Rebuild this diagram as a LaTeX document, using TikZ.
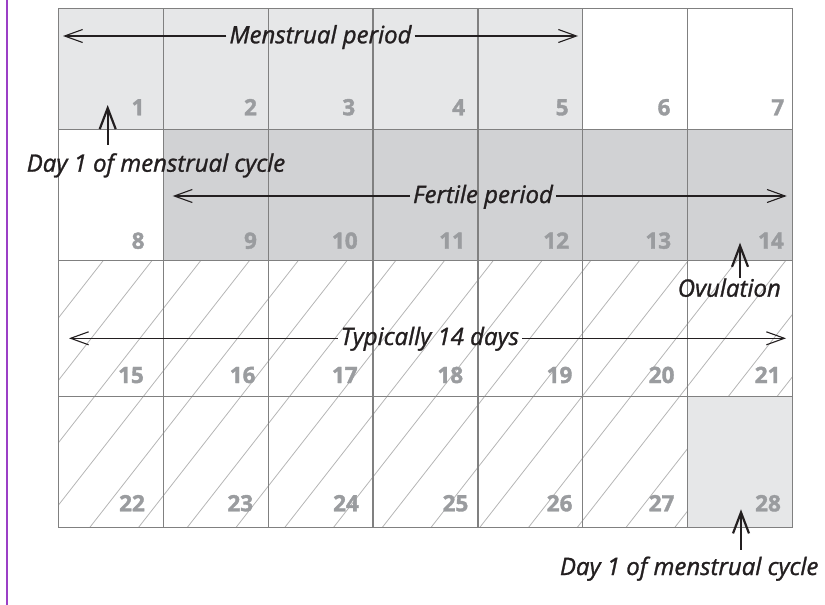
\documentclass[tikz,border=0pt]{standalone}
\usepackage{fontspec}
\setmainfont{Open Sans}
\newfontfamily\lblfont{Open Sans}[FakeBold=1.2]
\newfontfamily\numfont{Open Sans}[FakeBold=1.6]
\usetikzlibrary{arrows.meta}
\definecolor{lightfill}{HTML}{E6E7E8}
\definecolor{darkfill}{HTML}{D1D2D4}
\definecolor{gridc}{HTML}{808080}
\definecolor{numc}{HTML}{9A9C9F}
\definecolor{hatchc}{HTML}{B5B5B5}
\definecolor{txt}{HTML}{231F20}
\definecolor{purp}{HTML}{9B3FC6}
\begin{document}
\begin{tikzpicture}[x=1pt,y=-1pt,
  gridline/.style={draw=gridc,line width=1.3pt},
  hatchline/.style={draw=hatchc,line width=0.8pt},
  num/.style={anchor=base,text=numc,inner sep=0pt,font=\numfont\fontsize{22.5}{26}\selectfont\bfseries},
  lbl/.style={anchor=base,text=txt,inner sep=3pt,font=\lblfont\fontsize{24}{28}\selectfont\itshape},
  vlbl/.style={anchor=base,text=txt,inner sep=0pt,font=\lblfont\fontsize{24}{28}\selectfont\itshape},
  harrow/.style={draw=txt,line width=1.1pt,-{Straight Barb[length=18pt,width=13pt]}},
  varrow/.style={draw=txt,line width=2.2pt,-{Straight Barb[length=21pt,width=16pt]}}]
\useasboundingbox (0,0) rectangle (825,605);
% purple margin line
\draw[purp,line width=2pt] (6.7,0) -- (6.7,605);
% fills
\fill[lightfill] (58.7,8.3) rectangle (582.7,129.3);
\fill[darkfill] (163.5,129.3) rectangle (792.3,260.5);
\fill[lightfill] (687.5,396.3) rectangle (792.3,527.5);
% hatching
\begin{scope}
\clip (58.7,260.5) rectangle (792.3,396.3) (58.7,396.3) rectangle (687.5,527.5);
\foreach \k in {-3,...,21}{
  \draw[hatchline] ({103.3+\k*48.75+(260.5-200)/1.28},200) -- ({103.3+\k*48.75-(560-260.5)/1.28},560);
}
\end{scope}
% grid
\foreach \i in {1,...,6}{
  \draw[gridline] ({58.7+\i*104.8},8.3) -- ({58.7+\i*104.8},527.5);
}
\foreach \y in {129.3,260.5,396.3}{
  \draw[gridline] (58.7,\y) -- (792.3,\y);
}
\draw[gridline] (58.7,8.3) rectangle (792.3,527.5);
% day numbers
\node[num] (d1) at (138.1,115.3) {1};
\node[num] (d2) at (250.5,115.3) {2};
\node[num] (d3) at (348.8,115.3) {3};
\node[num] (d4) at (458.7,115.3) {4};
\node[num] (d5) at (562.2,115.3) {5};
\node[num] (d6) at (664.0,115.3) {6};
\node[num] (d7) at (777.8,115.3) {7};
\node[num] (d8) at (138.1,248.7) {8};
\node[num] (d9) at (250.5,248.7) {9};
\node[num] (d10) at (344.8,248.7) {10};
\node[num] (d11) at (452.1,248.7) {11};
\node[num] (d12) at (556.2,248.7) {12};
\node[num] (d13) at (658.3,248.7) {13};
\node[num] (d14) at (770.9,248.7) {14};
\node[num] (d15) at (131.0,383) {15};
\node[num] (d16) at (242.6,383) {16};
\node[num] (d17) at (344.8,383) {17};
\node[num] (d18) at (450.3,383) {18};
\node[num] (d19) at (559.5,383) {19};
\node[num] (d20) at (661.6,383) {20};
\node[num] (d21) at (767.6,383) {21};
\node[num] (d22) at (132.0,511.3) {22};
\node[num] (d23) at (240.3,511.3) {23};
\node[num] (d24) at (346.0,511.3) {24};
\node[num] (d25) at (455.5,511.3) {25};
\node[num] (d26) at (559.6,511.3) {26};
\node[num] (d27) at (661.6,511.3) {27};
\node[num] (d28) at (768.0,511.3) {28};
% horizontal span labels
\node[lbl] (mens) at (320.5,43.3) {Menstrual period};
\coordinate (mensL) at (63,36);
\coordinate (mensR) at (578,36);
\draw[harrow] (mens.west |- mensL) -- (mensL);
\draw[harrow] (mens.east |- mensR) -- (mensR);
\node[lbl] (fert) at (483,203) {Fertile period};
\coordinate (fertL) at (172.7,196);
\coordinate (fertR) at (786.7,196);
\draw[harrow] (fert.west |- fertL) -- (fertL);
\draw[harrow] (fert.east |- fertR) -- (fertR);
\node[lbl] (typ) at (429.9,345) {Typically 14 days};
\coordinate (typL) at (69,338.3);
\coordinate (typR) at (786,338.3);
\draw[harrow] (typ.west |- typL) -- (typL);
\draw[harrow] (typ.east |- typR) -- (typR);
% pointer labels
\node[vlbl] (dayA) at (156,171.7) {Day 1 of menstrual cycle};
\coordinate (dayAtip) at (107.7,105);
\draw[varrow] ([yshift=8.5pt]dayA.north -| dayAtip) -- (dayAtip);
\node[vlbl] (ovu) at (729.3,296.7) {Ovulation};
\coordinate (ovutip) at (740,242.7);
\draw[varrow] ([yshift=0.5pt]ovu.north -| ovutip) -- (ovutip);
\node[vlbl] (dayB) at (689.2,575) {Day 1 of menstrual cycle};
\coordinate (dayBtip) at (741,509.3);
\draw[varrow] ([yshift=6.8pt]dayB.north -| dayBtip) -- (dayBtip);
\end{tikzpicture}
\end{document}
